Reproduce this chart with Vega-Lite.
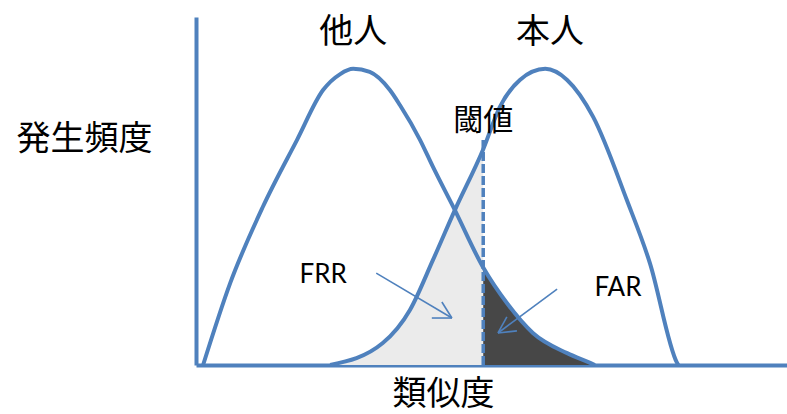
{
  "$schema": "https://vega.github.io/schema/vega-lite/v6.json",
  "width": 591,
  "height": 348,
  "autosize": {"type": "none"},
  "padding": {"left": 196, "top": 17, "right": 0, "bottom": 49},
  "background": "white",
  "config": {
    "view": {"stroke": null},
    "axis": {
      "domainColor": "#4f81bd",
      "domainWidth": 4,
      "ticks": false,
      "labels": false,
      "grid": false,
      "titleFont": "Noto Sans CJK JP",
      "titleFontSize": 34,
      "titleFontWeight": "normal",
      "titleColor": "black",
      "titleAlign": "center",
      "titleBaseline": "middle"
    }
  },
  "datasets": {
    "curves": [
      {"series": "他人", "x": 1.2, "y": 0},
      {"series": "他人", "x": 5.8, "y": 23.6},
      {"series": "他人", "x": 11.3, "y": 45.4},
      {"series": "他人", "x": 17.1, "y": 64.7},
      {"series": "他人", "x": 21.5, "y": 79.0},
      {"series": "他人", "x": 24.4, "y": 83.6},
      {"series": "他人", "x": 26.6, "y": 85.1},
      {"series": "他人", "x": 29.4, "y": 84.2},
      {"series": "他人", "x": 32.8, "y": 79.0},
      {"series": "他人", "x": 34.5, "y": 74.7},
      {"series": "他人", "x": 37.9, "y": 64.7},
      {"series": "他人", "x": 40.1, "y": 56.9},
      {"series": "他人", "x": 43.8, "y": 44.5},
      {"series": "他人", "x": 48.6, "y": 28.0},
      {"series": "他人", "x": 52.6, "y": 17.8},
      {"series": "他人", "x": 57.0, "y": 9.2},
      {"series": "他人", "x": 62.8, "y": 3.4},
      {"series": "他人", "x": 66.7, "y": 0.6},
      {"series": "他人", "x": 67.5, "y": 0},
      {"series": "本人", "x": 22.7, "y": 0},
      {"series": "本人", "x": 31.6, "y": 6.3},
      {"series": "本人", "x": 36.2, "y": 15.8},
      {"series": "本人", "x": 40.1, "y": 30.2},
      {"series": "本人", "x": 43.8, "y": 44.5},
      {"series": "本人", "x": 48.6, "y": 62.0},
      {"series": "本人", "x": 51.4, "y": 74.1},
      {"series": "本人", "x": 54.8, "y": 81.9},
      {"series": "本人", "x": 59.1, "y": 85.1},
      {"series": "本人", "x": 62.8, "y": 81.9},
      {"series": "本人", "x": 67.2, "y": 71.3},
      {"series": "本人", "x": 72.9, "y": 47.4},
      {"series": "本人", "x": 76.8, "y": 29.3},
      {"series": "本人", "x": 81.4, "y": 0.6},
      {"series": "本人", "x": 81.6, "y": 0}
    ],
    "threshold": [
      {"x": 48.6, "y": 0, "y2": 65.2}
    ],
    "arrows": [
      {"x": 30.5, "y": 26.4, "x2": 43.3, "y2": 13.5},
      {"x": 43.3, "y": 13.5, "x2": 41.6, "y2": 18.1},
      {"x": 43.3, "y": 13.5, "x2": 39.9, "y2": 13.5},
      {"x": 61.1, "y": 21.8, "x2": 51.1, "y2": 9.2},
      {"x": 51.1, "y": 9.2, "x2": 52.6, "y2": 13.8},
      {"x": 51.1, "y": 9.2, "x2": 54.3, "y2": 9.8}
    ],
    "bigLabels": [
      {"label": "他人", "x": 26.6, "y": 95.4},
      {"label": "本人", "x": 59.9, "y": 95.4}
    ],
    "thresholdLabel": [
      {"label": "閾値", "x": 48.6, "y": 70.1}
    ],
    "rateLabels": [
      {"label": "FRR", "x": 21.5, "y": 25.9},
      {"label": "FAR", "x": 71.4, "y": 22.1}
    ]
  },
  "encoding": {
    "x": {
      "field": "x",
      "type": "quantitative",
      "scale": {"domain": [0, 100], "nice": false},
      "axis": {"title": "類似度", "titleX": 247, "titleY": 29}
    },
    "y": {
      "field": "y",
      "type": "quantitative",
      "scale": {"domain": [0, 100], "nice": false},
      "axis": {"title": "発生頻度", "titleAngle": 0, "titleX": -112, "titleY": 122}
    }
  },
  "layer": [
    {
      "data": {"name": "curves"},
      "transform": [{"filter": "datum.series === '本人' && datum.x <= 48.6"}],
      "mark": {"type": "area", "interpolate": "monotone", "fill": "#ebebeb"}
    },
    {
      "data": {"name": "curves"},
      "transform": [{"filter": "datum.series === '他人' && datum.x >= 48.6"}],
      "mark": {"type": "area", "interpolate": "monotone", "fill": "#474747"}
    },
    {
      "data": {"name": "curves"},
      "mark": {"type": "line", "interpolate": "monotone", "color": "#4f81bd", "strokeWidth": 4},
      "encoding": {"detail": {"field": "series", "type": "nominal"}}
    },
    {
      "data": {"name": "threshold"},
      "mark": {"type": "rule", "color": "#4f81bd", "strokeWidth": 3.5, "strokeDash": [9, 3]},
      "encoding": {"y2": {"field": "y2"}}
    },
    {
      "data": {"name": "arrows"},
      "mark": {"type": "rule", "color": "#4f81bd", "strokeWidth": 1.6},
      "encoding": {"x2": {"field": "x2"}, "y2": {"field": "y2"}}
    },
    {
      "data": {"name": "bigLabels"},
      "mark": {"type": "text", "font": "Noto Sans CJK JP", "fontSize": 34, "color": "black", "align": "center", "baseline": "middle"},
      "encoding": {"text": {"field": "label"}}
    },
    {
      "data": {"name": "thresholdLabel"},
      "mark": {"type": "text", "font": "Noto Sans CJK JP", "fontSize": 30, "color": "black", "align": "center", "baseline": "middle"},
      "encoding": {"text": {"field": "label"}}
    },
    {
      "data": {"name": "rateLabels"},
      "mark": {"type": "text", "font": "Lato", "fontSize": 26, "color": "black", "align": "center", "baseline": "middle"},
      "encoding": {"text": {"field": "label"}}
    }
  ]
}
